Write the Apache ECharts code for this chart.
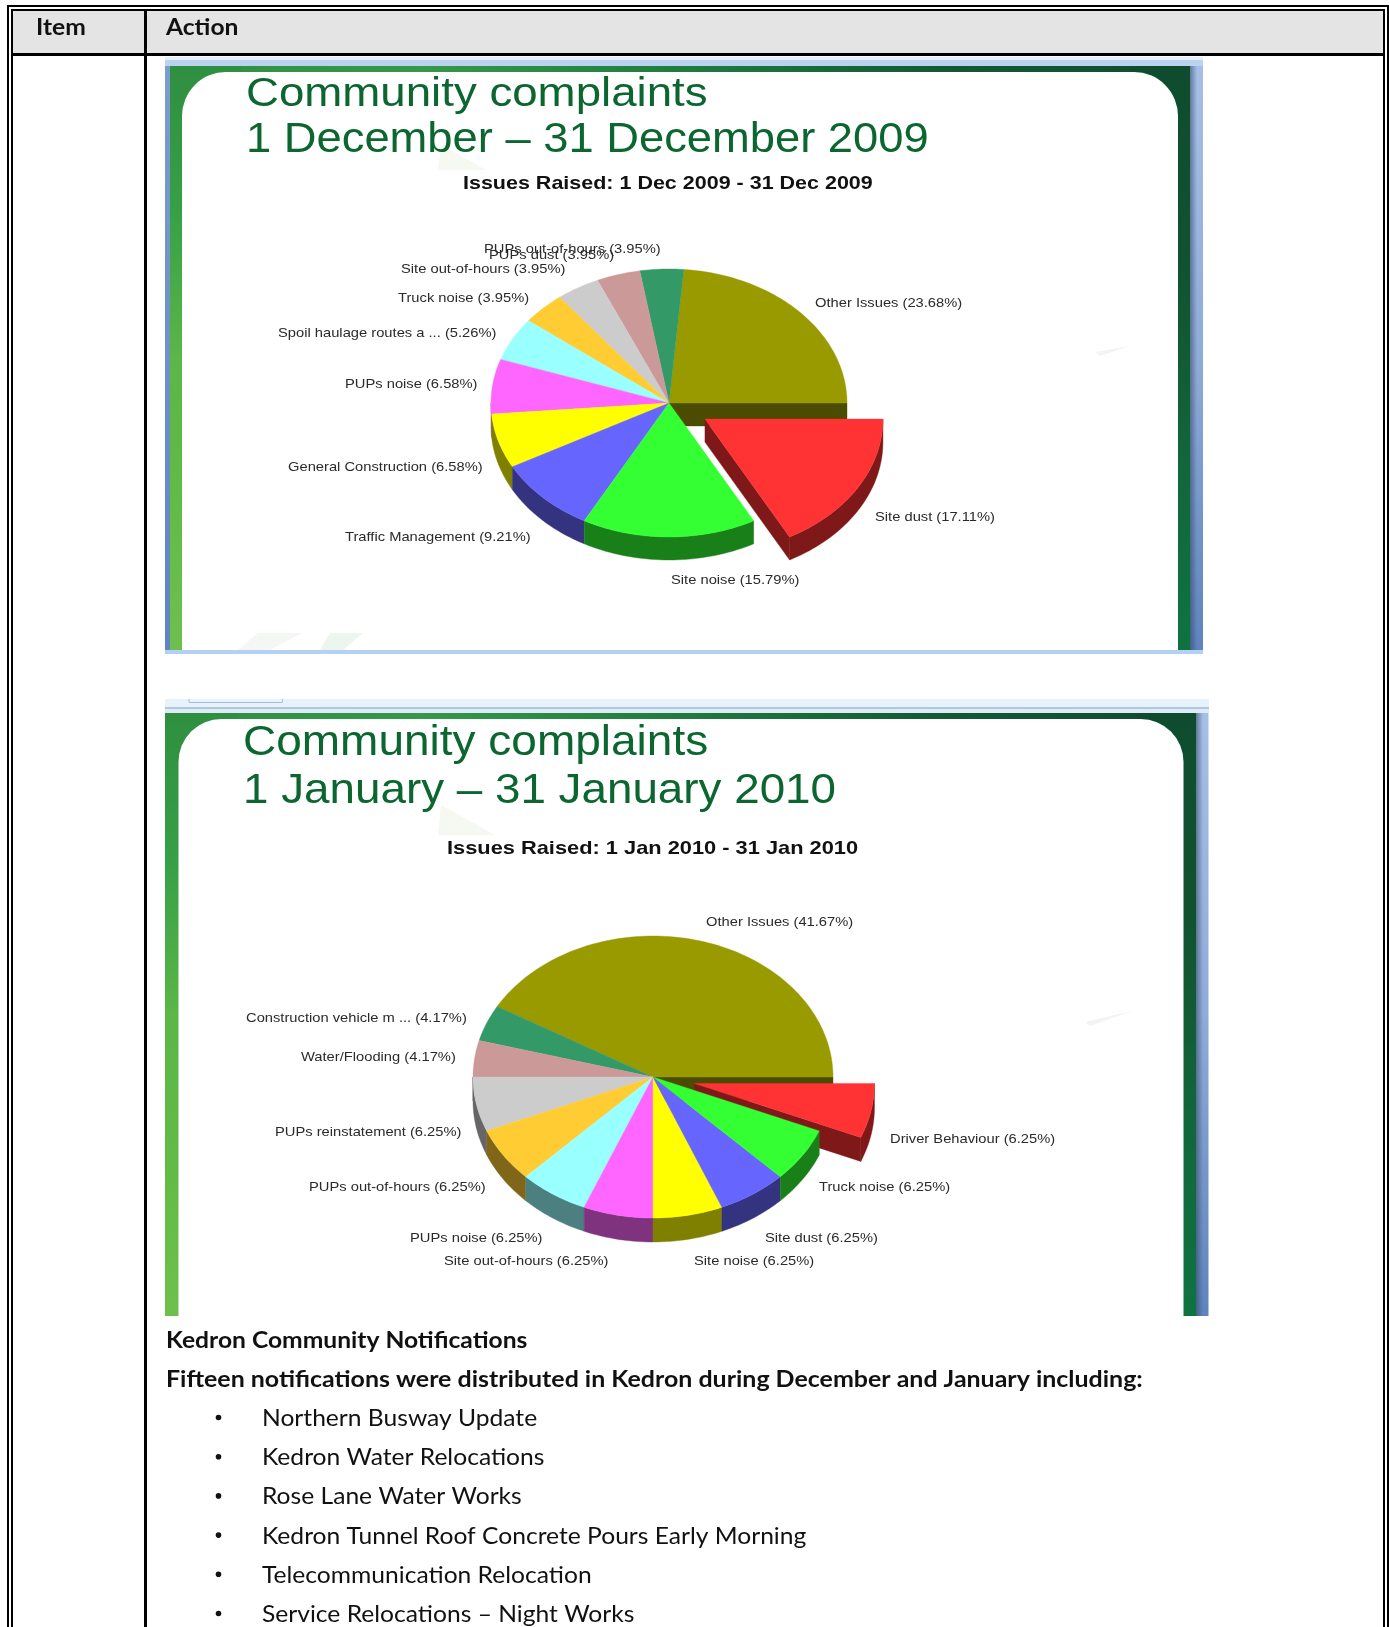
<!DOCTYPE html>
<html>
<head>
<meta charset="utf-8">
<title>Community complaints</title>
<script src="https://cdn.jsdelivr.net/npm/echarts@6/dist/echarts.min.js"></script>
<style>
html, body { margin: 0; padding: 0; background: #fff; }
#page { width: 1389px; height: 1627px; }
</style>
</head>
<body>
<div id="page"></div>
<script>
// December 2009 slide
const decNames = ['Other Issues', 'PUPs out-of-hours', 'PUPs dust', 'Site out-of-hours', 'Truck noise',
    'Spoil haulage routes a ...', 'PUPs noise', 'General Construction', 'Traffic Management', 'Site noise', 'Site dust'];
const decValues = [23.68, 3.95, 3.95, 3.95, 3.95, 5.26, 6.58, 6.58, 9.21, 15.79, 17.11];

// January 2010 slide
const janNames = ['Other Issues', 'Construction vehicle m ...', 'Water/Flooding', 'PUPs reinstatement', 'PUPs out-of-hours',
    'PUPs noise', 'Site out-of-hours', 'Site noise', 'Site dust', 'Truck noise', 'Driver Behaviour'];
const janValues = [41.67, 4.17, 4.17, 6.25, 6.25, 6.25, 6.25, 6.25, 6.25, 6.25, 6.25];

const sliceColors = ['#999900', '#339966', '#cc9999', '#cccccc', '#ffcc33', '#99ffff', '#ff66ff', '#ffff00', '#6666ff', '#33ff33', '#ff3333'];

const notifications = ['Northern Busway Update', 'Kedron Water Relocations', 'Rose Lane Water Works',
    'Kedron Tunnel Roof Concrete Pours Early Morning', 'Telecommunication Relocation', 'Service Relocations \u2013 Night Works'];

// label anchors (left edge, middle), same order as the names
const decLabelSpots = [[815, 303], [484, 249], [489, 255], [401, 269], [398, 298], [278, 333], [345, 384], [288, 467], [345, 537], [671, 580], [875, 517]];
const janLabelSpots = [[706, 922], [246, 1018], [301, 1057], [275, 1132], [309, 1187], [410, 1238], [444, 1261], [694, 1261], [765, 1238], [819, 1187], [890, 1139]];

const decPie = { cx: 669, cy: 403, rx: 178, ry: 134, depth: 23 };
const janPie = { cx: 653, cy: 1077, rx: 180, ry: 141, depth: 24 };
const EXPLODE = 0.235;

// [value, cumulative value before this slice]
function pieData(values) {
    let sum = 0;
    return values.map(function (v) {
        const row = [v, sum];
        sum += v;
        return row;
    });
}

function darker(hex) {
    const n = parseInt(hex.slice(1), 16);
    return 'rgb(' + ((n >> 16) >> 1) + ',' + (((n >> 8) & 255) >> 1) + ',' + ((n & 255) >> 1) + ')';
}

function rimPoints(p, ox, oy, from, to, dy) {
    const pts = [];
    const steps = Math.max(2, Math.ceil(Math.abs(to - from) / 1.5));
    for (let i = 0; i <= steps; i++) {
        const a = (from + (to - from) * i / steps) * Math.PI / 180;
        pts.push([p.cx + ox + p.rx * Math.cos(a), p.cy + oy - p.ry * Math.sin(a) + dy]);
    }
    return pts;
}

function polygon(points, fill, z2) {
    return { type: 'polygon', z2: z2, shape: { points: points }, style: { fill: fill, stroke: fill, lineWidth: 0.4 } };
}

// one custom series for each pie: the slices go anticlockwise from 3 o'clock, the last one is pulled out
function pieSeries(p, names, values, labelSpots) {
    const total = values.reduce(function (a, b) { return a + b; }, 0);
    return {
        type: 'custom',
        coordinateSystem: 'none',
        silent: true,
        clip: false,
        data: pieData(values),
        renderItem: function (params, api) {
            const i = params.dataIndex;
            const from = api.value(1) / total * 360;
            const to = (api.value(1) + api.value(0)) / total * 360;
            const color = sliceColors[i];
            const wall = darker(color);
            const exploded = i === values.length - 1;
            let ox = 0, oy = 0;
            if (exploded) {
                const mid = (from + to) / 2 * Math.PI / 180;
                ox = p.rx * EXPLODE * Math.cos(mid);
                oy = -p.ry * EXPLODE * Math.sin(mid);
            }
            const apex = [p.cx + ox, p.cy + oy];
            const children = [];

            // rim wall, only the front half of the pie can be seen
            const wallFrom = Math.max(from, 180);
            const wallTo = Math.min(to, 360);
            if (wallTo > wallFrom) {
                const upper = rimPoints(p, ox, oy, wallFrom, wallTo, 0);
                const lower = rimPoints(p, ox, oy, wallFrom, wallTo, p.depth).reverse();
                children.push(polygon(upper.concat(lower), wall, exploded ? 12 : 20));
            }
            // cut faces seen from the front
            if (i === 0) {
                const end = rimPoints(p, 0, 0, 0, 0, 0)[0];
                children.push(polygon([apex, end, [end[0], end[1] + p.depth], [apex[0], apex[1] + p.depth]], wall, 5));
            }
            if (exploded) {
                const end = rimPoints(p, ox, oy, from, from, 0)[0];
                children.push(polygon([apex, end, [end[0], end[1] + p.depth], [apex[0], apex[1] + p.depth]], wall, 11));
            }
            // top face
            children.push(polygon([apex].concat(rimPoints(p, ox, oy, from, to, 0)), color, exploded ? 13 : 30));
            // label
            children.push({
                type: 'text',
                z2: 40,
                x: labelSpots[i][0],
                y: labelSpots[i][1],
                scaleX: 1.09,
                style: {
                    text: names[i] + ' (' + values[i].toFixed(2) + '%)',
                    fontFamily: 'Liberation Sans',
                    fontSize: 13.5,
                    fill: '#2a2a2a',
                    align: 'left',
                    verticalAlign: 'middle'
                }
            });
            return { type: 'group', children: children };
        }
    };
}

function box(x, y, w, h, fill, z) {
    return { type: 'rect', z: z || 1, silent: true, shape: { x: x, y: y, width: w, height: h }, style: { fill: fill } };
}

function label(text, x, y, family, weight, size, color, sx) {
    return {
        type: 'text', z: 3, silent: true, x: x, y: y, scaleX: sx || 1,
        style: { text: text, fontFamily: family, fontWeight: weight, fontSize: size, fill: color, align: 'left', verticalAlign: 'middle' }
    };
}

function gradient(x2, y2, stops) {
    return new echarts.graphic.LinearGradient(0, 0, x2, y2, stops.map(function (c, i) {
        return { offset: i / (stops.length - 1), color: c };
    }));
}

function chevron(points, color) {
    return { type: 'polygon', z: 2, silent: true, shape: { points: points }, style: { fill: color } };
}

function slideBack(left, top, right, bottom, leftBand, rightBand, radius) {
    const list = [];
    // top and right bands, then the green left band, then the white page with round corners
    list.push(box(left, top, right - left, bottom - top, gradient(1, 0, ['#2f8f40', '#35984a', '#1f7c3e', '#125a33', '#0f4c2f'])));
    list.push(box(right - 60, top, 60, bottom - top, gradient(0, 1, ['#0f4c2f', '#10522f', '#12663b', '#0e7340'])));
    list.push(box(left, top, leftBand + 60, bottom - top, gradient(0, 1, ['#2f8f40', '#37a047', '#5cb648', '#62bb46', '#6ec04e'])));
    list.push({
        type: 'rect', z: 1, silent: true,
        shape: { x: left + leftBand, y: top + 6, width: right - left - leftBand - rightBand, height: bottom - top - 6, r: [radius, radius, 0, 0] },
        style: { fill: '#fff' }
    });
    return list;
}

// blue window edge right of the slide, with a soft shadow next to the green
function windowEdge(x, y, w, h) {
    return [
        box(x, y, w, h, gradient(0, 1, ['#a5bfe6', '#8fabd8', '#5f83bd'])),
        box(x, y, 7, h, gradient(1, 0, ['rgba(45,65,90,0.55)', 'rgba(45,65,90,0)']))
    ];
}

function pageGraphics() {
    let g = [];
    const BODY = 1.07;

    // table header and rules
    g.push(box(12, 10, 1372, 44, '#e4e4e4'));
    g.push(box(7, 5, 1381, 2, '#000', 4));
    g.push(box(11, 9, 1373, 2, '#000', 4));
    g.push(box(7, 5, 2, 1622, '#000', 4));
    g.push(box(11, 9, 2, 1618, '#000', 4));
    g.push(box(1383, 9, 2, 1618, '#000', 4));
    g.push(box(1387, 5, 2, 1622, '#000', 4));
    g.push(box(144, 9, 3, 1618, '#000', 4));
    g.push(box(11, 53, 1374, 3, '#000', 4));
    g.push(label('Item', 36, 28, 'Lato', 'bold', 23, '#111', BODY));
    g.push(label('Action', 166, 28, 'Lato', 'bold', 23, '#111', BODY));

    // December slide
    g.push(box(165, 57, 1038, 3, '#e6f0fb'));
    g.push(box(165, 60, 1038, 6, '#bcd3f0'));
    g = g.concat(slideBack(170, 66, 1190, 650, 12, 12, 44));
    g.push(box(165, 66, 5, 584, gradient(0, 1, ['#7c9bcf', '#6f90c8', '#5f83c4'])));
    g = g.concat(windowEdge(1190, 66, 13, 584));
    g.push(box(165, 650, 1038, 4, '#b4d0f5'));
    g.push(chevron([[238, 650], [258, 633], [302, 633], [270, 650]], '#f5f7f5'));
    g.push(chevron([[320, 650], [330, 633], [363, 633], [343, 650]], '#eef4ee'));
    g.push(chevron([[438, 170], [441, 145], [486, 170]], '#f6f8f2'));
    g.push(chevron([[1095, 352], [1130, 346], [1100, 356]], '#f3f5f3'));
    g.push(label('Community complaints', 246, 95, 'Liberation Sans', 'normal', 41, '#0b6630', 1.113));
    g.push(label('1 December \u2013 31 December 2009', 246, 140, 'Liberation Sans', 'normal', 42, '#0b6630', 1.079));
    g.push(label('Issues Raised: 1 Dec 2009 - 31 Dec 2009', 463, 184, 'Liberation Sans', 'bold', 19, '#111', 1.131));

    // January slide
    g.push(box(165, 699, 1044, 8, '#e6f3fc'));
    g.push(box(165, 707, 1044, 2, '#b4c8dc'));
    g.push(box(165, 709, 1044, 4, '#ddecf8'));
    g.push({ type: 'polyline', z: 2, silent: true, shape: { points: [[189, 699], [189, 702.5], [282.5, 702.5], [282.5, 699]] }, style: { fill: 'none', stroke: '#a9bcd8', lineWidth: 1 } });
    g = g.concat(slideBack(165, 713, 1196, 1316, 13.5, 12.5, 43));
    g = g.concat(windowEdge(1196, 713, 12.5, 603));
    g.push(chevron([[438, 835], [441, 805], [495, 835]], '#f6f8f2'));
    g.push(chevron([[1085, 1022], [1135, 1010], [1090, 1026]], '#f3f5f3'));
    g.push(label('Community complaints', 243, 743, 'Liberation Sans', 'normal', 42, '#0b6630', 1.095));
    g.push(label('1 January \u2013 31 January 2010', 243, 791, 'Liberation Sans', 'normal', 42, '#0b6630', 1.09));
    g.push(label('Issues Raised: 1 Jan 2010 - 31 Jan 2010', 447, 849, 'Liberation Sans', 'bold', 19, '#111', 1.148));

    // notes under the slides
    g.push(label('Kedron Community Notifications', 166, 1341, 'Lato', 'bold', 23, '#111', BODY));
    g.push(label('Fifteen notifications were distributed in Kedron during December and January including:', 166, 1380, 'Lato', 'bold', 23, '#111', 1.085));
    notifications.forEach(function (text, i) {
        const y = 1418.5 + i * 39.2;
        g.push({ type: 'circle', z: 3, silent: true, shape: { cx: 218.5, cy: y - 1, r: 2.8 }, style: { fill: '#111' } });
        g.push(label(text, 262, y, 'Lato', 'normal', 23, '#111', BODY));
    });
    return g;
}

function initPage() {
    const chart = echarts.init(document.getElementById('page'), null, { renderer: 'canvas' });
    chart.setOption({
        animation: false,
        backgroundColor: '#fff',
        graphic: { elements: pageGraphics() },
        series: [
            pieSeries(decPie, decNames, decValues, decLabelSpots),
            pieSeries(janPie, janNames, janValues, janLabelSpots)
        ]
    });
}

document.addEventListener('DOMContentLoaded', initPage);
</script>
</body>
</html>
